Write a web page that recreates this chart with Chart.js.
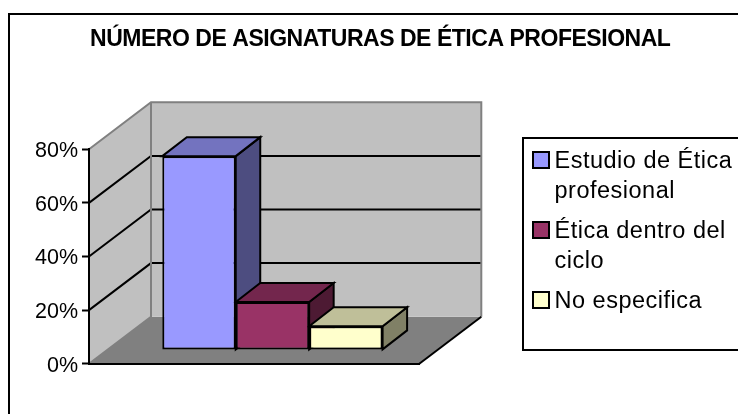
<!DOCTYPE html>
<html>
<head>
<meta charset="utf-8">
<style>
body { margin: 0; background: #fff; }
canvas { display: block; }
</style>
</head>
<body>
<canvas id="grafico" width="738" height="414"></canvas>
<script src="https://cdn.jsdelivr.net/npm/chart.js@4"></script>
<script>
const titulo = 'NÚMERO DE ASIGNATURAS DE ÉTICA PROFESIONAL';
const categorias = [''];
const series = ['Estudio de Ética profesional', 'Ética dentro del ciclo', 'No especifica'];
const lineasLeyenda = [['Estudio de Ética', 'profesional'], ['Ética dentro del', 'ciclo'], ['No especifica']];
const valores = [72.3, 17.9, 8.8];
const ticksY = [0, 20, 40, 60, 80];

const coresFrente = ['#9999FF', '#993366', '#FFFFCC'];
const coresTopo = ['#7373BF', '#73264D', '#BFBF99'];
const coresLado = ['#4D4D80', '#4D1A33', '#808066'];

// profundidade do "3D"
const paredeX = 62, paredeY = 47;
const barraProfX = 24.5, barraProfY = 19;
const recuoX = 18.3, recuoY = 13.8;

function poligono(ctx, pts, fill, stroke) {
    ctx.beginPath();
    ctx.moveTo(pts[0][0], pts[0][1]);
    for (let i = 1; i < pts.length; i++) ctx.lineTo(pts[i][0], pts[i][1]);
    ctx.closePath();
    if (fill) { ctx.fillStyle = fill; ctx.fill(); }
    if (stroke) { ctx.strokeStyle = stroke; ctx.lineWidth = 2; ctx.lineJoin = 'miter'; ctx.stroke(); }
}

function linha(ctx, pts, cor, largura) {
    ctx.beginPath();
    ctx.moveTo(pts[0][0], pts[0][1]);
    for (let i = 1; i < pts.length; i++) ctx.lineTo(pts[i][0], pts[i][1]);
    ctx.strokeStyle = cor;
    ctx.lineWidth = largura;
    ctx.stroke();
}

const paredes = {
    id: 'paredes',
    beforeDraw(chart) {
        const ctx = chart.ctx, a = chart.chartArea, y = chart.scales.y;
        ctx.save();
        // moldura
        linha(ctx, [[9, 414], [9, 14], [738, 14]], '#000', 2);
        const t = a.top, b = a.bottom, l = a.left, r = a.right;
        // chao
        poligono(ctx, [[l, b], [l + paredeX, b - paredeY], [r + paredeX, b - paredeY], [r, b]], '#808080');
        // paredes
        poligono(ctx, [[l, b], [l, t], [l + paredeX, t - paredeY], [l + paredeX, b - paredeY]], '#C0C0C0');
        ctx.fillStyle = '#C0C0C0';
        ctx.fillRect(l + paredeX, t - paredeY, r - l, b - t);
        // linhas de grade
        ticksY.slice(1, -1).forEach(v => {
            const py = y.getPixelForValue(v);
            linha(ctx, [[l, py], [l + paredeX, py - paredeY], [r + paredeX, py - paredeY]], '#000', 2);
        });
        // contorno cinza
        linha(ctx, [[l, t], [l + paredeX, t - paredeY], [r + paredeX, t - paredeY], [r + paredeX, b - paredeY]], '#808080', 2);
        linha(ctx, [[l + paredeX, t - paredeY], [l + paredeX, b - paredeY], [l, b]], '#808080', 2);
        // borda direita do chao
        linha(ctx, [[r, b], [r + paredeX, b - paredeY]], '#000', 2);
        ctx.restore();
    }
};

const barras3d = {
    id: 'barras3d',
    beforeDatasetsDraw(chart) {
        const ctx = chart.ctx;
        ctx.save();
        ctx.translate(recuoX, -recuoY);
        series.forEach((s, i) => {
            const bar = chart.getDatasetMeta(i).data[0];
            const e = bar.x - bar.width / 2, d = bar.x + bar.width / 2;
            const dx = barraProfX, dy = barraProfY;
            poligono(ctx, [[d, bar.y], [d + dx, bar.y - dy], [d + dx, bar.base - dy], [d, bar.base]], coresLado[i], '#000');
            poligono(ctx, [[e, bar.y], [e + dx, bar.y - dy], [d + dx, bar.y - dy], [d, bar.y]], coresTopo[i], '#000');
        });
    },
    afterDatasetsDraw(chart) {
        chart.ctx.restore();
    }
};

const textos = {
    id: 'textos',
    afterDraw(chart) {
        const ctx = chart.ctx;
        ctx.save();
        ctx.fillStyle = '#000';
        ctx.textBaseline = 'alphabetic';
        ctx.font = 'bold 23px "Liberation Sans"';
        ctx.letterSpacing = '-0.47px';
        ctx.fillText(titulo, 90, 46);

        // caixa da legenda
        linha(ctx, [[739, 138], [523, 138], [523, 350], [739, 350]], '#000', 2);
        const quadY = [152, 222, 292];
        const baseY = [[168, 198], [238, 268], [308]];
        ctx.font = '23.5px "Liberation Sans"';
        ctx.letterSpacing = '0.5px';
        lineasLeyenda.forEach((linhas, i) => {
            ctx.fillStyle = coresFrente[i];
            ctx.fillRect(533, quadY[i], 16, 16);
            ctx.strokeStyle = '#000';
            ctx.lineWidth = 2;
            ctx.strokeRect(533, quadY[i], 16, 16);
            ctx.fillStyle = '#000';
            linhas.forEach((txt, j) => ctx.fillText(txt, 554.5, baseY[i][j]));
        });
        ctx.restore();
    }
};

new Chart(document.getElementById('grafico'), {
    type: 'bar',
    data: {
        labels: categorias,
        datasets: series.map((s, i) => ({
            label: s,
            data: [valores[i]],
            backgroundColor: coresFrente[i],
            borderColor: '#000',
            borderWidth: 2,
            borderSkipped: false
        }))
    },
    options: {
        responsive: false,
        animation: false,
        categoryPercentage: 0.667,
        barPercentage: 1,
        layout: { padding: { left: 0, right: 318.7, top: 149.3, bottom: 50.3 } },
        plugins: {
            legend: { display: false },
            title: { display: false },
            tooltip: { enabled: false }
        },
        scales: {
            x: {
                ticks: { display: false },
                grid: { display: false },
                border: { display: true, color: '#000', width: 2 },
                afterFit: s => { s.height = 0; }
            },
            y: {
                min: ticksY[0],
                max: ticksY[ticksY.length - 1],
                afterFit: s => { s.width = 89; },
                afterBuildTicks: s => { s.ticks = ticksY.map(v => ({ value: v })); },
                ticks: {
                    padding: 4,
                    labelOffset: 2,
                    color: '#000',
                    font: { family: 'Liberation Sans', size: 21.5 },
                    callback: v => v + '%'
                },
                grid: { drawOnChartArea: false, drawTicks: true, tickLength: 7, tickWidth: 2, tickColor: '#000' },
                border: { display: true, color: '#000', width: 2 }
            }
        }
    },
    plugins: [paredes, barras3d, textos]
});
</script>
</body>
</html>
